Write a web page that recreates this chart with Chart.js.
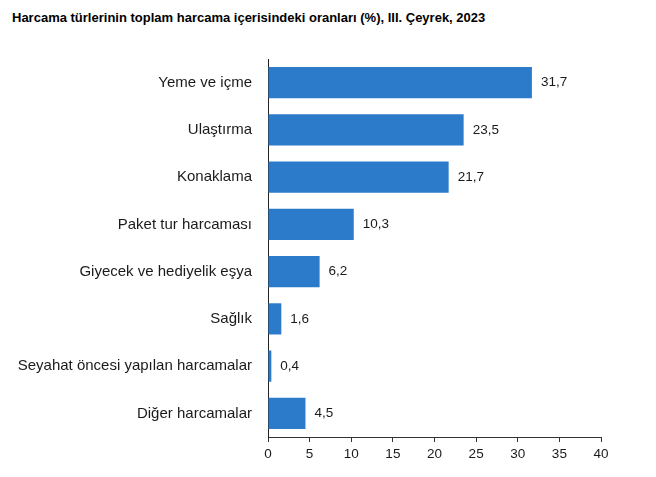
<!DOCTYPE html>
<html>
<head>
<meta charset="utf-8">
<script src="https://cdn.jsdelivr.net/npm/chart.js@4"></script>
<style>
  html, body { margin: 0; padding: 0; background: #fff; }
  #wrap { position: relative; width: 656px; height: 477px; }
  #title {
    position: absolute; left: 12px; top: 10px;
    font: bold 13px "Liberation Sans", Arial, sans-serif; color: #000;
  }
  canvas { position: absolute; left: 0; top: 0; }
</style>
</head>
<body>
<div id="wrap">
  <div id="title">Harcama türlerinin toplam harcama içerisindeki oranları (%), III. Çeyrek, 2023</div>
  <canvas id="chart" width="656" height="477"></canvas>
</div>
<script>
// --- data ---
const categories = [
    'Yeme ve içme',
    'Ulaştırma',
    'Konaklama',
    'Paket tur harcaması',
    'Giyecek ve hediyelik eşya',
    'Sağlık',
    'Seyahat öncesi yapılan harcamalar',
    'Diğer harcamalar'
];
const shares = [31.7, 23.5, 21.7, 10.3, 6.2, 1.6, 0.4, 4.5];
const xTicks = [0, 5, 10, 15, 20, 25, 30, 35, 40];

const FONT = '"Liberation Sans", Arial, sans-serif';

// value labels next to the bar ends (comma decimal)
const valueLabels = {
    id: 'valueLabels',
    afterDatasetsDraw(chart) {
        const ctx = chart.ctx;
        const meta = chart.getDatasetMeta(0);
        ctx.save();
        ctx.font = '13.5px ' + FONT;
        ctx.fillStyle = '#1a1a1a';
        ctx.textAlign = 'left';
        ctx.textBaseline = 'middle';
        meta.data.forEach((bar, i) => {
            const txt = shares[i].toFixed(1).replace('.', ',');
            ctx.fillText(txt, bar.x + 9, bar.y);
        });
        ctx.restore();
    }
};

new Chart(document.getElementById('chart'), {
    type: 'bar',
    data: {
        labels: categories,
        datasets: [{
            data: shares,
            backgroundColor: '#2b7bca',
            borderWidth: 0,
            barPercentage: 0.66,
            categoryPercentage: 1
        }]
    },
    options: {
        indexAxis: 'y',
        responsive: false,
        animation: false,
        layout: { padding: { top: 59, right: 55, bottom: 0, left: 0 } },
        plugins: { legend: { display: false }, tooltip: { enabled: false }, title: { display: false } },
        scales: {
            x: {
                min: 0,
                max: 40,
                afterBuildTicks: (axis) => { axis.ticks = xTicks.map(v => ({ value: v })); },
                grid: { drawOnChartArea: false, drawTicks: true, tickLength: 5, color: '#333' },
                border: { display: true, color: '#333' },
                ticks: { color: '#1a1a1a', font: { family: FONT, size: 13.5 }, padding: 4, maxRotation: 0 },
                afterFit: (axis) => { axis.height = 40; }
            },
            y: {
                grid: { display: false },
                border: { display: true, color: '#222' },
                ticks: { color: '#1a1a1a', font: { family: FONT, size: 15 }, padding: 8 },
                afterFit: (axis) => { axis.width = 268; }
            }
        }
    },
    plugins: [valueLabels]
});
</script>
</body>
</html>
